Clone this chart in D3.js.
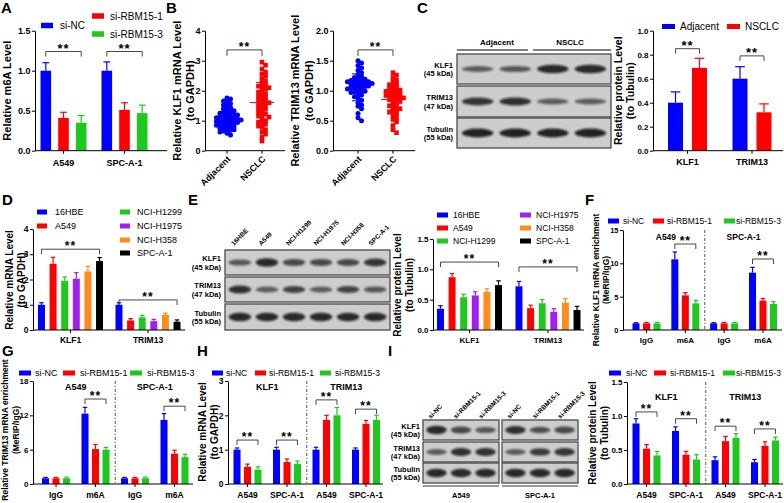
<!DOCTYPE html>
<html><head><meta charset="utf-8">
<script src="https://cdn.jsdelivr.net/npm/d3@7"></script>
<style>
body{margin:0;background:#fff}
svg{font-family:"Liberation Sans",Arial,sans-serif;display:block}
</style></head><body>
<svg id="fig" width="784" height="503"></svg>
<script>
// ================= DATA =================
const siSeries = ["si-NC","si-RBM15-1","si-RBM15-3"];
const cellLines = ["A549","SPC-A-1"];
const aMean = [[1.00,0.41,0.35],[1.00,0.51,0.47]];
const aErr  = [[0.10,0.07,0.09],[0.11,0.09,0.10]];
const aTicks = [0,0.5,1.0,1.5];

const tissue = ["Adjacent","NSCLC"];
const bKlf1Adj = [0.52,0.58,0.62,0.66,0.70,0.72,0.75,0.78,0.80,0.82,0.85,0.86,0.88,0.90,0.92,0.94,0.95,0.97,0.98,1.00,1.02,1.03,1.05,1.06,1.08,1.10,1.11,1.13,1.15,1.17,1.19,1.21,1.23,1.25,1.28,1.30,1.33,1.36,1.40,1.44,1.48,1.52,1.57,1.62,1.66,1.72,1.76,0.68];
const bKlf1Nsclc = [0.32,0.45,0.55,0.62,0.70,0.78,0.82,0.88,0.95,1.00,1.05,1.12,1.18,1.22,1.28,1.32,1.38,1.42,1.48,1.52,1.55,1.60,1.65,1.70,1.74,1.78,1.82,1.86,1.90,1.95,2.00,2.05,2.10,2.15,2.20,2.25,2.32,2.40,2.48,2.55,2.62,2.72,2.85,2.95,0.92,1.15,1.62,2.12];
const bTrimAdj = [0.50,0.55,0.62,0.70,0.74,0.76,0.80,0.84,0.88,0.90,0.93,0.95,0.97,0.99,1.00,1.02,1.03,1.05,1.06,1.07,1.08,1.10,1.11,1.12,1.13,1.14,1.15,1.16,1.17,1.18,1.20,1.22,1.24,1.27,1.30,1.34,1.38,1.42,1.46,1.50,1.12,1.08,1.04,0.98,1.15,1.19];
const bTrimNsclc = [0.30,0.35,0.42,0.48,0.52,0.55,0.58,0.62,0.65,0.68,0.70,0.72,0.75,0.78,0.80,0.82,0.84,0.86,0.88,0.90,0.92,0.93,0.95,0.97,0.99,1.00,1.02,1.04,1.06,1.08,1.10,1.12,1.15,1.18,1.22,1.26,1.30,0.85,0.89,0.96,1.01,0.74,0.66,0.91];
const bKlf1Ticks = [0,1,2,3,4];
const bTrimTicks = [0,0.5,1.0,1.5,2.0];

const genes = ["KLF1","TRIM13"];
const cMean = [[0.40,0.69],[0.60,0.32]];
const cErr  = [[0.09,0.08],[0.10,0.07]];
const cTicks = [0,0.2,0.4,0.6,0.8,1.0];
const cBlot = [[0.45,0.5,0.85,0.85],[0.75,0.8,0.45,0.45],[0.9,0.9,0.9,0.9]];

const lines6 = ["16HBE","A549","NCI-H1299","NCI-H1975","NCI-H358","SPC-A-1"];
const dMean = [[1.00,2.62,1.95,2.03,2.32,2.73],[1.00,0.38,0.50,0.35,0.60,0.33]];
const dErr  = [[0.08,0.26,0.15,0.24,0.20,0.14],[0.08,0.07,0.08,0.07,0.07,0.07]];
const dTicks = [0,1,2,3,4];

const eMean = [[0.35,0.87,0.54,0.57,0.63,0.74],[0.72,0.36,0.44,0.30,0.45,0.33]];
const eErr  = [[0.05,0.06,0.05,0.06,0.05,0.07],[0.08,0.05,0.06,0.05,0.07,0.06]];
const eTicks = [0,0.5,1.0,1.5];
const eBlot = [[0.5,0.85,0.6,0.6,0.6,0.75],[0.8,0.45,0.65,0.45,0.65,0.5],[0.85,0.85,0.85,0.85,0.85,0.85]];

const ripCats = ["IgG","m6A","IgG","m6A"];
const fMean = [[1.0,1.0,1.0],[10.6,5.2,4.0],[1.0,1.0,1.0],[8.6,4.4,3.9]];
const fErr  = [[0.10,0.15,0.15],[1.1,0.40,0.45],[0.10,0.15,0.15],[0.8,0.30,0.35]];
const fTicks = [0,5,10,15];

const gMean = [[1.0,1.0,1.0],[12.3,6.1,6.0],[1.0,1.0,1.0],[11.2,5.3,4.7]];
const gErr  = [[0.15,0.15,0.20],[1.1,0.8,0.4],[0.15,0.15,0.20],[1.1,0.6,0.5]];
const gTicks = [0,6,12,18];

const hCats = ["A549","SPC-A-1","A549","SPC-A-1"];
const hMean = [[1.0,0.50,0.42],[1.0,0.64,0.58],[1.0,1.87,2.00],[1.0,1.75,1.87]];
const hErr  = [[0.05,0.08,0.08],[0.07,0.09,0.09],[0.07,0.13,0.23],[0.05,0.10,0.13]];
const hTicks = [0,1,2,3];

const iMean = [[0.89,0.52,0.42],[0.78,0.43,0.36],[0.35,0.63,0.68],[0.32,0.56,0.64]];
const iErr  = [[0.07,0.06,0.06],[0.06,0.05,0.07],[0.05,0.07,0.06],[0.04,0.06,0.05]];
const iTicks = [0,0.5,1.0,1.5];
const iBlot = [[0.85,0.6,0.5,0.8,0.55,0.6],[0.45,0.8,0.8,0.45,0.7,0.75],[0.85,0.85,0.85,0.85,0.85,0.85]];

const blotRows = [["KLF1","(45 kDa)"],["TRIM13","(47 kDa)"],["Tubulin","(55 kDa)"]];

// ================= DRAWING =================
const C3 = ["#0000ff","#ff0000","#1fc81f"];
const C6 = ["#0000ff","#ff0000","#1fc81f","#a020f0","#ff8c1a","#000000"];
const FONT = '"Liberation Sans",Arial,sans-serif';
const svg = d3.select("#fig");
svg.append("rect").attr("width",784).attr("height",503).attr("fill","#fff");
svg.append("defs").append("filter").attr("id","blur").attr("x","-20%").attr("y","-50%").attr("width","140%").attr("height","200%")
  .append("feGaussianBlur").attr("stdDeviation",1.1);

function txt(g,x,y,s,o={}){
  return g.append("text").attr("x",x).attr("y",y).text(s)
    .attr("font-size",o.size||9).attr("font-weight",o.bold===false?"normal":"bold")
    .attr("text-anchor",o.anchor||"start").attr("fill","#000");
}
function vtitle(x,y,s,size){
  svg.append("text").attr("transform",`translate(${x},${y}) rotate(-90)`).attr("text-anchor","middle")
    .attr("dy","0.35em").attr("font-size",size).attr("font-weight","bold").text(s);
}
function panelLetter(s,x,y){ txt(svg,x,y,s,{size:15}); }
function legend(items,colors,rx,tx,ys,w,h,size){
  items.forEach((s,i)=>{
    svg.append("rect").attr("x",rx[i]).attr("y",ys[i]-h/2).attr("width",w).attr("height",h).attr("fill",colors[i]);
    txt(svg,tx[i],ys[i],s,{size:size,bold:false}).attr("dy","0.35em");
  });
}
function yAxis(g,y,ax,ticks,fmt,tf){
  const a = g.append("g").attr("transform",`translate(${ax},0)`)
    .call(d3.axisLeft(y).tickValues(ticks).tickFormat(fmt).tickSize(3).tickSizeOuter(0).tickPadding(1.5));
  a.attr("font-family",FONT);
  a.selectAll("text").attr("font-size",tf).attr("font-weight","bold").attr("fill","#000");
  a.selectAll("line,path").attr("stroke","#000");
}
function sigBracket(g,x1,x2,yy,leg,sf){
  g.append("path").attr("d",`M${x1},${yy+leg}V${yy}H${x2}V${yy+leg}`).attr("fill","none").attr("stroke","#333").attr("stroke-width",0.9);
  txt(g,(x1+x2)/2,yy+1,"**",{size:sf,anchor:"middle"}).attr("letter-spacing",1);
}

function barPanel(o){
  const g = svg.append("g");
  const y = d3.scaleLinear().domain([0,o.max]).range([o.y0,o.yTop]);
  const gx = d3.scalePoint().domain(d3.range(o.means.length)).range(o.centers);
  const k = o.means[0].length;
  const ix = d3.scaleBand().domain(d3.range(k)).range([-o.gw/2,o.gw/2]).paddingInner(o.pi);
  const bw = ix.bandwidth();
  if(o.dashed){
    const xd = (gx(1)+gx(2))/2;
    g.append("line").attr("x1",xd).attr("x2",xd).attr("y1",o.yTop).attr("y2",o.y0)
      .attr("stroke","#444").attr("stroke-width",0.9).attr("stroke-dasharray","3,2,1,2");
  }
  o.means.forEach((row,i)=>row.forEach((v,j)=>{
    const x = gx(i)+ix(j), cx = x+bw/2, top = y(v+o.errs[i][j]);
    g.append("line").attr("x1",cx).attr("x2",cx).attr("y1",y(v)).attr("y2",top).attr("stroke",o.colors[j]).attr("stroke-width",1.2);
    g.append("line").attr("x1",cx-bw*0.32).attr("x2",cx+bw*0.32).attr("y1",top).attr("y2",top).attr("stroke",o.colors[j]).attr("stroke-width",1.2);
    g.append("rect").attr("x",x).attr("y",y(v)).attr("width",bw).attr("height",o.y0-y(v)).attr("fill",o.colors[j]);
  }));
  yAxis(g,y,o.ax,o.ticks,o.fmt,o.tf);
  g.append("line").attr("x1",o.ax).attr("x2",o.axEnd).attr("y1",o.y0).attr("y2",o.y0).attr("stroke","#000");
  o.xLabels.forEach((s,i)=>{
    g.append("line").attr("x1",gx(i)).attr("x2",gx(i)).attr("y1",o.y0).attr("y2",o.y0+3).attr("stroke","#000");
    txt(g,gx(i),o.y0+o.ly,s,{size:o.lf,anchor:"middle"});
  });
  (o.headers||[]).forEach((s,i)=>{
    txt(g,(gx(2*i)+gx(2*i+1))/2,o.yTop+o.hy,s,{size:o.hf||9,anchor:"middle"});
  });
  (o.sig||[]).forEach(([gi,a,b,lvl])=>{
    sigBracket(g,gx(gi)+ix(a)+bw/2,gx(gi)+ix(b)+bw/2,y(lvl),o.leg||5,o.sf||12);
  });
}

function swarm(vals,y,d){
  const placed=[];
  vals.map(v=>({v,py:y(v)})).sort((a,b)=>a.py-b.py).forEach(p=>{
    for(let k=0;k<30;k++){
      const off=(k%2?1:-1)*Math.ceil(k/2)*d*0.8;
      if(placed.every(q=>(q.x-off)**2+(q.y-p.py)**2>=d*d*0.6)){placed.push({x:off,y:p.py});break;}
    }
  });
  return placed;
}

function scatterPanel(o){
  const g = svg.append("g");
  const y = d3.scaleLinear().domain([0,o.max]).range([o.y0,o.yTop]);
  const gx = d3.scalePoint().domain([0,1]).range(o.centers);
  o.groups.forEach((vals,i)=>{
    const col=o.colors[i];
    swarm(vals,y,4.4).forEach(p=>{
      if(i===0) g.append("circle").attr("cx",gx(i)+p.x).attr("cy",p.y).attr("r",2.5).attr("fill",col);
      else g.append("rect").attr("x",gx(i)+p.x-2.3).attr("y",p.y-2.3).attr("width",4.6).attr("height",4.6).attr("fill",col);
    });
    const m=d3.mean(vals), sd=d3.deviation(vals), cx=gx(i);
    g.append("line").attr("x1",cx-12).attr("x2",cx+12).attr("y1",y(m)).attr("y2",y(m)).attr("stroke",col).attr("stroke-width",1);
    g.append("line").attr("x1",cx).attr("x2",cx).attr("y1",y(m-sd)).attr("y2",y(m+sd)).attr("stroke",col).attr("stroke-width",1);
    [m-sd,m+sd].forEach(v=>g.append("line").attr("x1",cx-6).attr("x2",cx+6).attr("y1",y(v)).attr("y2",y(v)).attr("stroke",col));
  });
  yAxis(g,y,o.ax,o.ticks,o.fmt,o.tf);
  g.append("line").attr("x1",o.ax).attr("x2",o.axEnd).attr("y1",o.y0).attr("y2",o.y0).attr("stroke","#000");
  tissue.forEach((s,i)=>{
    g.append("line").attr("x1",gx(i)).attr("x2",gx(i)).attr("y1",o.y0).attr("y2",o.y0+3).attr("stroke","#000");
    g.append("text").attr("transform",`translate(${gx(i)+4},${o.y0+9}) rotate(-45)`).attr("text-anchor","end")
      .attr("font-size",9).attr("font-weight","bold").text(s);
  });
  sigBracket(g,gx(0),gx(1),y(o.sig),6,12);
}

function blot(o){
  const g = svg.append("g");
  o.rows.forEach((r,ri)=>{
    txt(g,o.labX,(r[0]+r[1])/2-1.5,blotRows[ri][0],{size:o.fs,anchor:"end"});
    txt(g,o.labX,(r[0]+r[1])/2+7,blotRows[ri][1],{size:o.fs,anchor:"end"});
    let lane=0;
    o.boxes.forEach(b=>{
      g.append("rect").attr("x",b[0]).attr("y",r[0]).attr("width",b[1]-b[0]).attr("height",r[1]-r[0])
        .attr("fill","#cdcdcd").attr("stroke","#4a4a4a").attr("stroke-width",1.3);
      const lx = d3.scaleBand().domain(d3.range(b[2])).range([b[0],b[1]]).paddingOuter(0.05);
      for(let k=0;k<b[2];k++){
        const v=o.data[ri][lane+k];
        g.append("ellipse").attr("cx",lx(k)+lx.bandwidth()/2).attr("cy",(r[0]+r[1])/2)
          .attr("rx",lx.bandwidth()*0.42).attr("ry",1.5+v*3.2).attr("fill","#111")
          .attr("opacity",0.3+0.65*v).attr("filter","url(#blur)");
      }
      lane+=b[2];
    });
  });
  return g;
}

// ---------- Panel A ----------
panelLetter("A",1,13);
barPanel({ax:35,axEnd:167,y0:150.7,yTop:30.7,max:1.5,ticks:aTicks,fmt:d3.format(".1f"),centers:[63.5,124.5],gw:46,pi:0.4,
  means:aMean,errs:aErr,colors:C3,xLabels:cellLines,tf:9,lf:9,ly:15,sig:[[0,0,2,1.24],[1,0,2,1.24]],sf:13});
vtitle(7,90.7,"Relative m6A Level",11);
legend(siSeries,C3,[41,92,92],[60,110,110],[25.5,16,34],12,5.5,10);

// ---------- Panel B ----------
panelLetter("B",166,13);
scatterPanel({ax:205,axEnd:285,y0:150.7,yTop:30.7,max:4,ticks:bKlf1Ticks,fmt:d3.format("d"),centers:[227,262],
  groups:[bKlf1Adj,bKlf1Nsclc],colors:["#0000ff","#ff0000"],tf:9,sig:3.36});
vtitle(177,90.7,"Relative KLF1 mRNA Level",11);
vtitle(190,90.7,"(to GAPDH)",11);
scatterPanel({ax:333,axEnd:415,y0:150.7,yTop:30.7,max:2,ticks:bTrimTicks,fmt:d3.format(".1f"),centers:[358,393],
  groups:[bTrimAdj,bTrimNsclc],colors:["#0000ff","#ff0000"],tf:9,sig:1.68});
vtitle(295,90.7,"Relative TRIM13 mRNA Level",11);
vtitle(309,90.7,"(to GAPDH)",11);

// ---------- Panel C ----------
panelLetter("C",417,13);
{
  const g = blot({boxes:[[457,611,4]],rows:[[54,84],[86,117],[118,148]],data:cBlot,labX:453,fs:7.5});
  txt(g,497,45,tissue[0],{size:8,anchor:"middle"});
  txt(g,570,45,tissue[1],{size:8,anchor:"middle"});
  g.append("line").attr("x1",457).attr("x2",528).attr("y1",50).attr("y2",50).attr("stroke","#000");
  g.append("line").attr("x1",533).attr("x2",611).attr("y1",50).attr("y2",50).attr("stroke","#000");
}
barPanel({ax:653,axEnd:783,y0:150.7,yTop:30.7,max:1.0,ticks:cTicks,fmt:d3.format(".1f"),centers:[687.5,752],gw:39,pi:0.375,
  means:cMean,errs:cErr,colors:["#0000ff","#ff0000"],xLabels:genes,tf:8,lf:9,ly:14.5,sig:[[0,0,1,0.85],[1,0,1,0.79]],sf:13});
vtitle(618,90.7,"Relative protein Level",10.5);
vtitle(630,90.7,"(to Tubulin)",10.5);
legend(tissue,["#0000ff","#ff0000"],[662,727],[680,745],[26.5,26.5],13,5,10);

// ---------- Panel D ----------
panelLetter("D",2,205);
barPanel({ax:33,axEnd:185,y0:330,yTop:229,max:4,ticks:dTicks,fmt:d3.format("d"),centers:[70.5,148],gw:65,pi:0.4,
  means:dMean,errs:dErr,colors:C6,xLabels:genes,tf:8.5,lf:8.5,ly:13,sig:[[0,0,5,3.2],[1,0,5,1.19]],sf:12});
vtitle(9,280,"Relative mRNA Level",10);
vtitle(21,280,"(to GAPDH)",10);
legend(lines6,C6,[37,37,120,120,120,120],[55,55,137,137,137,137],[212,226,212,226,240,253],10,5,9);

// ---------- Panel E ----------
panelLetter("E",188,205);
{
  const g = blot({boxes:[[225,390,6]],rows:[[250,275],[277,302],[304,330]],data:eBlot,labX:221,fs:7.5});
  const lx = d3.scaleBand().domain(lines6).range([225,390]);
  lines6.forEach(s=>{
    g.append("text").attr("transform",`translate(${lx(s)+lx.bandwidth()/2-5},${246}) rotate(-45)`)
      .attr("font-size",6.5).attr("font-weight","bold").text(s);
  });
}
barPanel({ax:433,axEnd:584,y0:330,yTop:239,max:1.5,ticks:eTicks,fmt:d3.format(".1f"),centers:[469.5,548],gw:65,pi:0.4,
  means:eMean,errs:eErr,colors:C6,xLabels:genes,tf:8,lf:8,ly:13,sig:[[0,0,5,1.12],[1,0,5,1.04]],sf:12});
vtitle(397,285,"Relative protein Level",10);
vtitle(409,285,"(to Tubulin)",10);
legend(lines6,C6,[437,437,437,520,520,520],[453,453,453,536,536,536],[215,228,241,215,228,241],11,5,8.5);

// ---------- Panel F ----------
panelLetter("F",585,205);
barPanel({ax:623,axEnd:782,y0:330,yTop:230,max:15,ticks:fTicks,fmt:d3.format("d"),centers:[646.5,763],gw:28,pi:0.33,
  means:fMean,errs:fErr,colors:C3,xLabels:ripCats,tf:7.5,lf:8,ly:13,headers:cellLines,hy:10,hf:8.5,dashed:true,
  sig:[[1,0,2,12.9],[3,0,2,10.65]],sf:12});
vtitle(596,280,"Relative KLF1 mRNA enrichment",8.5);
vtitle(606,280,"(MeRIP/IgG)",8.5);
legend(siSeries,C3,[608,653,724],[623,667,736],[221,221,221],11,5,8.5);

// ---------- Panel G ----------
panelLetter("G",2,356);
barPanel({ax:33,axEnd:193,y0:484,yTop:381,max:18,ticks:gTicks,fmt:d3.format("d"),centers:[56,174.5],gw:28,pi:0.33,
  means:gMean,errs:gErr,colors:C3,xLabels:ripCats,tf:8,lf:8.5,ly:14,headers:cellLines,hy:9,hf:9,dashed:true,
  sig:[[1,0,2,14.85],[3,0,2,13.6]],sf:12});
vtitle(5,430,"Relative TRIM13 mRNA enrichment",8.5);
vtitle(16,430,"(MeRIP/IgG)",8.5);
legend(siSeries,C3,[19,63,130],[35,80,147],[373,373,373],12,5,9);

// ---------- Panel H ----------
panelLetter("H",197,356);
barPanel({ax:228,axEnd:383,y0:484,yTop:381,max:3,ticks:hTicks,fmt:d3.format("d"),centers:[247.5,366],gw:28,pi:0.33,
  means:hMean,errs:hErr,colors:C3,xLabels:hCats,tf:8.5,lf:8.5,ly:14,headers:genes,hy:9,hf:9,dashed:true,
  sig:[[0,0,2,1.28],[1,0,2,1.28],[2,0,2,2.45],[3,0,2,2.18]],sf:12});
vtitle(202,432,"Relative mRNA Level",10);
vtitle(214,432,"(to GAPDH)",10);
legend(siSeries,C3,[212,255,320],[226,269,335],[373,373,373],11,5,8.5);

// ---------- Panel I ----------
panelLetter("I",388,356);
{
  const g = blot({boxes:[[423,499,3],[502,578,3]],rows:[[420,440],[442,462],[463,483]],data:iBlot,labX:420,fs:7.5});
  [[423,499],[502,578]].forEach((b,bi)=>{
    const lx = d3.scaleBand().domain(siSeries).range([b[0],b[1]]);
    siSeries.forEach(s=>{
      g.append("text").attr("transform",`translate(${lx(s)+lx.bandwidth()/2-5},${419}) rotate(-45)`)
        .attr("font-size",6.5).attr("font-weight","bold").text(s);
    });
    g.append("line").attr("x1",b[0]).attr("x2",b[1]).attr("y1",486).attr("y2",486).attr("stroke","#000").attr("stroke-width",0.8);
    txt(g,(b[0]+b[1])/2,498,cellLines[bi],{size:7.5,anchor:"middle"});
  });
}
barPanel({ax:627,axEnd:783,y0:484,yTop:382,max:1.5,ticks:iTicks,fmt:d3.format(".1f"),centers:[646.5,765],gw:28,pi:0.33,
  means:iMean,errs:iErr,colors:C3,xLabels:hCats,tf:8,lf:8.5,ly:14,headers:genes,hy:18,hf:9,dashed:true,
  sig:[[0,0,2,1.06],[1,0,2,0.96],[2,0,2,0.85],[3,0,2,0.81]],sf:12});
vtitle(592,433,"Relative protein Level",10);
vtitle(604,433,"(to Tubulin)",10);
legend(siSeries,C3,[609,654,723],[626,670,736],[373,373,373],12,5,8.5);
</script>
</body></html>
